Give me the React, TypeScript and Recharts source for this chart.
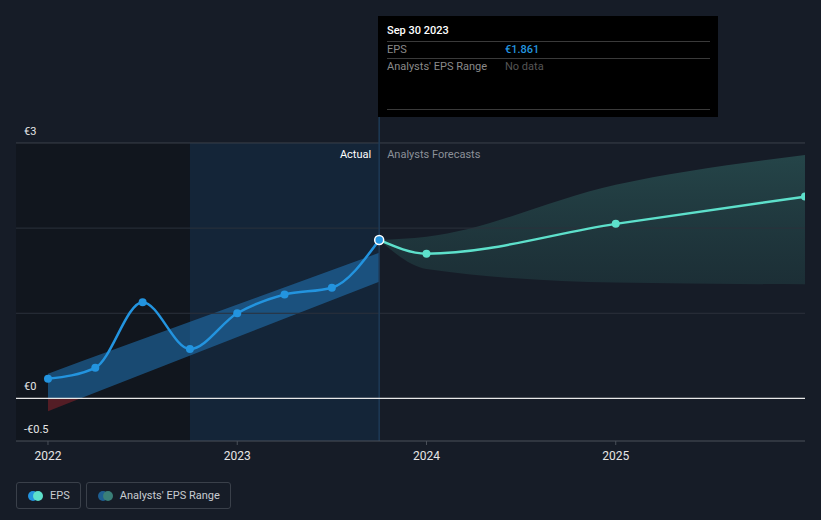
import {
  ComposedChart,
  Line,
  Area,
  XAxis,
  YAxis,
  ReferenceArea,
  ReferenceLine,
} from "recharts";

// actual EPS, quarterly (decimal years)
const actualDates = [2022.0, 2022.25, 2022.5, 2022.75, 2023.0, 2023.25, 2023.5, 2023.75];
const actualEps = [0.23, 0.36, 1.13, 0.58, 1.0, 1.22, 1.3, 1.861];

// analysts forecast
const forecastDates = [2023.75, 2024.0, 2025.0, 2026.0];
const forecastEps = [1.861, 1.7, 2.05, 2.37];
const forecastLow = [1.861, 1.52, 1.36, 1.34];
const forecastHigh = [1.861, 1.9, 2.51, 2.86];

// past trend band (positive part) and its negative tail
const trendDates = [2022.0, 2022.17, 2023.75];
const trendLow = [0, 0, 1.37];
const trendHigh = [0.29, 0.43, 1.71];
const negDates = [2022.0, 2022.17];
const negLow = [-0.15, 0];
const negHigh = [0, 0];

const gridValues = [1, 2, 3];
const yLabelValues = [3, 0, -0.5];
const yLabelText = ["€3", "€0", "-€0.5"];
const xTicks = [2022, 2023, 2024, 2025];

const BLUE = "#2394df";
const TEAL = "#5de0cb";

type Row = { x: number; [k: string]: any };
const rowsMap = new Map<number, Row>();
const put = (x: number, key: string, v: any) => {
  if (!rowsMap.has(x)) rowsMap.set(x, { x });
  rowsMap.get(x)![key] = v;
};
actualDates.forEach((d, i) => put(d, "eps", actualEps[i]));
forecastDates.forEach((d, i) => {
  put(d, "fc", forecastEps[i]);
  put(d, "fcRange", [forecastLow[i], forecastHigh[i]]);
});
trendDates.forEach((d, i) => put(d, "trend", [trendLow[i], trendHigh[i]]));
negDates.forEach((d, i) => put(d, "neg", [negLow[i], negHigh[i]]));
const data = Array.from(rowsMap.values()).sort((a, b) => a.x - b.x);

const yLabel = (text: string) => ({ viewBox }: any) => (
  <text x={viewBox.x + 8} y={viewBox.y - 8} fill="#e6e6e6" fontSize={11}>
    {text}
  </text>
);

const EpsDot = (props: any) => {
  const { cx, cy, index } = props;
  if (cx == null || cy == null || props.value == null) return <g key={index} />;
  const last = props.payload.x === actualDates[actualDates.length - 1];
  return (
    <circle
      key={index}
      cx={cx}
      cy={cy}
      r={last ? 4.5 : 4}
      fill={BLUE}
      stroke={last ? "#fff" : "none"}
      strokeWidth={last ? 1.5 : 0}
    />
  );
};

const FcDot = (props: any) => {
  const { cx, cy, index } = props;
  if (cx == null || cy == null || props.payload.x === forecastDates[0]) return <g key={index} />;
  return <circle key={index} cx={cx} cy={cy} r={4} fill={TEAL} />;
};

const SplitLabel = ({ viewBox }: any) => (
  <g fontSize={11}>
    <text x={viewBox.x - 8} y={viewBox.y + 41} textAnchor="end" fill="#fff">
      Actual
    </text>
    <text x={viewBox.x + 8} y={viewBox.y + 41} fill="#8b9098">
      Analysts Forecasts
    </text>
  </g>
);

const dot = (a: string, b: string) => (
  <span style={{ position: "relative", display: "inline-block", width: 15, height: 10, marginRight: 7 }}>
    <span style={{ position: "absolute", left: 0, top: 0, width: 10, height: 10, borderRadius: 5, background: a }} />
    <span style={{ position: "absolute", left: 5, top: 0, width: 10, height: 10, borderRadius: 5, background: b }} />
  </span>
);

const legendBox = {
  display: "flex",
  alignItems: "center",
  height: 25,
  padding: "0 10px 0 11px",
  border: "1px solid #3a404a",
  borderRadius: 3,
} as const;

export default function App() {
  const lastEps = actualEps[actualEps.length - 1];
  return (
    <div
      style={{
        position: "absolute",
        left: 0,
        top: 0,
        width: 821,
        height: 520,
        background: "#161c27",
        fontFamily: "Roboto, sans-serif",
        overflow: "hidden",
      }}
    >
      <ComposedChart
        width={821}
        height={520}
        data={data}
        margin={{ top: 117, right: 16, bottom: 49, left: 16 }}
      >
        <defs>
          <linearGradient id="fcGrad" x1="0" y1="0" x2="0" y2="1">
            <stop offset="0%" stopColor="#3f8d84" stopOpacity={0.6} />
            <stop offset="100%" stopColor="#2f6a66" stopOpacity={0.4} />
          </linearGradient>
        </defs>
        <ReferenceArea x1={2021.831} x2={2022.75} y1={-0.5} y2={3} fill="#0f1218" fillOpacity={0.55} stroke="none" />
        <ReferenceArea x1={2022.75} x2={2023.75} y1={-0.5} y2={3} fill="#12365a" fillOpacity={0.35} stroke="none" />
        {gridValues.map((v) => (
          <ReferenceLine key={v} y={v} stroke={v === 3 ? "#3b414b" : "#2b313b"} />
        ))}
        <XAxis
          type="number"
          dataKey="x"
          domain={[2021.831, 2026.0]}
          ticks={xTicks}
          allowDataOverflow
          stroke="#4a505a"
          tick={{ fill: "#e6e6e6", fontSize: 12 }}
          tickLine={{ stroke: "#4a505a" }}
          tickSize={4}
          tickMargin={6}
          height={30}
        />
        <YAxis type="number" domain={[-0.5, 3.305]} allowDataOverflow hide />
        <ReferenceLine x={2023.75} stroke="#1e3a56" strokeWidth={1.5} label={<SplitLabel />} />
        <Area
          type="linear"
          dataKey="neg"
          stroke="none"
          fill="#a3262e"
          fillOpacity={0.45}
          connectNulls
          isAnimationActive={false}
        />
        <Area
          type="linear"
          dataKey="trend"
          stroke="none"
          fill="#2176b8"
          fillOpacity={0.55}
          connectNulls
          isAnimationActive={false}
        />
        <Area
          type="monotone"
          dataKey="fcRange"
          stroke="none"
          fill="url(#fcGrad)"
          connectNulls
          isAnimationActive={false}
        />
        <ReferenceLine y={0} stroke="#e8e8e8" strokeWidth={1.2} />
        {yLabelValues.map((v, i) => (
          <ReferenceLine key={"l" + v} y={v} stroke="none" label={yLabel(yLabelText[i])} />
        ))}
        <Line
          type="monotone"
          dataKey="fc"
          stroke={TEAL}
          strokeWidth={2.5}
          dot={<FcDot />}
          activeDot={false}
          connectNulls
          isAnimationActive={false}
        />
        <Line
          type="monotone"
          dataKey="eps"
          stroke={BLUE}
          strokeWidth={2.5}
          dot={<EpsDot />}
          activeDot={false}
          connectNulls
          isAnimationActive={false}
        />
      </ComposedChart>

      {/* static tooltip */}
      <div
        style={{
          position: "absolute",
          left: 378,
          top: 16,
          width: 340,
          height: 101,
          background: "#000",
          fontSize: 11,
        }}
      >
        <div style={{ position: "absolute", left: 9, top: 8, color: "#fff", fontWeight: 500 }}>Sep 30 2023</div>
        <div style={{ position: "absolute", left: 9, right: 8, top: 25, borderTop: "1px solid #3a3a3a" }} />
        <div style={{ position: "absolute", left: 9, top: 27, color: "#8a8a8a" }}>EPS</div>
        <div style={{ position: "absolute", left: 127, top: 27, color: BLUE, fontWeight: 500 }}>€{lastEps.toFixed(3)}</div>
        <div style={{ position: "absolute", left: 9, right: 8, top: 42, borderTop: "1px solid #3a3a3a" }} />
        <div style={{ position: "absolute", left: 9, top: 44, color: "#8a8a8a" }}>Analysts' EPS Range</div>
        <div style={{ position: "absolute", left: 127, top: 44, color: "#555" }}>No data</div>
        <div style={{ position: "absolute", left: 9, right: 8, top: 93, borderTop: "1px solid #3a3a3a" }} />
      </div>

      {/* legend */}
      <div style={{ position: "absolute", left: 16, top: 482, display: "flex", gap: 5, fontSize: 11, color: "#c8ccd2" }}>
        <div style={legendBox}>
          {dot(BLUE, TEAL)}
          EPS
        </div>
        <div style={legendBox}>
          {dot("#1e5f92", "#3a7f78")}
          Analysts' EPS Range
        </div>
      </div>
    </div>
  );
}
